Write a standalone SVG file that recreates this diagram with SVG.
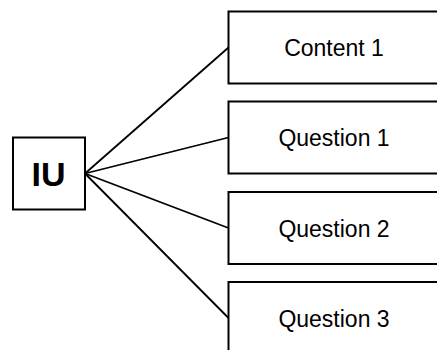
<svg xmlns="http://www.w3.org/2000/svg" width="437" height="350" viewBox="0 0 437 350">
<style>
.box{fill:#fff;stroke:#000;stroke-width:2}
.lbl{font-family:"Liberation Sans",Arial,sans-serif;font-size:23px;fill:#000;text-anchor:middle}
.iu{font-family:"Liberation Sans",Arial,sans-serif;font-size:34px;font-weight:bold;fill:#000;text-anchor:middle}
.con{stroke:#000;stroke-width:1.8;fill:none}
</style>
<rect width="437" height="350" fill="#fff"/>
<g id="connectors">
<line class="con" x1="85" y1="173.5" x2="228.5" y2="47.5"/>
<line class="con" x1="85" y1="173.5" x2="228.5" y2="137.5"/>
<line class="con" x1="85" y1="173.5" x2="228.5" y2="228"/>
<line class="con" x1="85" y1="173.5" x2="228.5" y2="318"/>
</g>
<g id="iu">
<rect class="box" x="13" y="137.5" width="72" height="72"/>
<text class="iu" x="48.5" y="186">IU</text>
</g>
<g id="content1">
<rect class="box" x="228.5" y="11.5" width="212" height="72"/>
<text class="lbl" x="334" y="55.5">Content 1</text>
</g>
<g id="question1">
<rect class="box" x="228.5" y="101.5" width="212" height="72"/>
<text class="lbl" x="334" y="146">Question 1</text>
</g>
<g id="question2">
<rect class="box" x="228.5" y="192" width="212" height="72"/>
<text class="lbl" x="334" y="236.5">Question 2</text>
</g>
<g id="question3">
<rect class="box" x="228.5" y="282" width="212" height="72"/>
<text class="lbl" x="334" y="326.5">Question 3</text>
</g>
</svg>
